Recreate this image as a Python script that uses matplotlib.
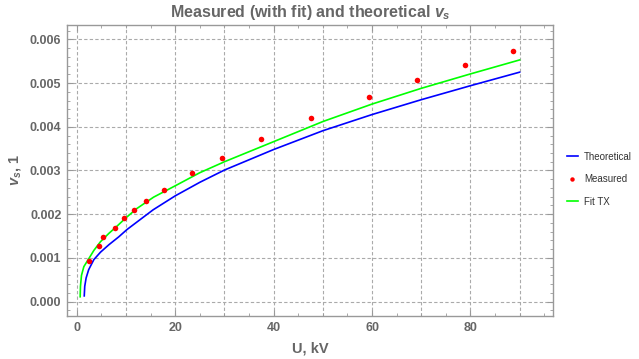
import matplotlib
matplotlib.use("Agg")
import matplotlib.pyplot as plt
from matplotlib.ticker import MultipleLocator

plt.rcParams['font.family'] = ['Liberation Sans', 'DejaVu Sans']
plt.rcParams['mathtext.fontset'] = 'custom'
plt.rcParams['mathtext.it'] = 'Liberation Sans:italic:bold'
plt.rcParams['mathtext.rm'] = 'Liberation Sans:bold'

# measured points
u_meas = [2.38, 4.4, 5.3, 7.8, 9.6, 11.6, 14.0, 17.7, 23.5, 29.6, 37.4, 47.6, 59.4, 69.2, 78.9, 88.6]
v_meas = [0.000938, 0.001275, 0.001473, 0.001686, 0.001908, 0.002098, 0.002297, 0.002549,
          0.002952, 0.003295, 0.003716, 0.004197, 0.004677, 0.005066, 0.005416, 0.005737]

# theoretical curve
u_theo = [1.5, 1.6, 1.88, 2.4, 3.45, 4.8, 6.5, 8.5, 10.2, 15.5, 20, 25, 30, 40, 50, 60, 70, 80, 90]
v_theo = [0.00013, 0.00035, 0.00054, 0.00073, 0.00096, 0.00113, 0.0013, 0.00148, 0.00165,
          0.0021, 0.00242, 0.00273, 0.00301, 0.00348, 0.00391, 0.00428, 0.00462, 0.00494, 0.00525]

# fit curve
u_fit = [0.67, 0.73, 0.94, 1.42, 2.3, 3.45, 4.8, 6.5, 8.2, 10, 12.2, 15.6, 20, 25, 30,
         40, 50, 60, 70, 80, 90]
v_fit = [0.00011, 0.00035, 0.0006, 0.0008, 0.00096, 0.00117, 0.00137, 0.00156, 0.00173,
         0.00192, 0.00213, 0.00239, 0.00265, 0.00295, 0.0032, 0.00366, 0.00412, 0.00452,
         0.00488, 0.00521, 0.00553]

gray = '#666666'

fig = plt.figure(figsize=(6.39, 3.59), dpi=100)
ax = fig.add_axes([0.1049, 0.1198, 0.7606, 0.8106])

ax.plot(u_theo, v_theo, color='#0000ff', lw=1.2, label='Theoretical', zorder=3)
ax.plot(u_meas, v_meas, 'o', color='#ff0000', ms=4, mew=0, label='Measured', zorder=4)
ax.plot(u_fit, v_fit, color='#00ff00', lw=1.2, label='Fit TX', zorder=3)

ax.set_xlim(-2.0, 96.8)
ax.set_ylim(-0.00033, 0.00633)

ax.xaxis.set_major_locator(MultipleLocator(20))
ax.xaxis.set_minor_locator(MultipleLocator(5))
ax.yaxis.set_major_locator(MultipleLocator(0.001))
ax.yaxis.set_minor_locator(MultipleLocator(0.0002))
ax.yaxis.set_major_formatter(plt.FuncFormatter(lambda v, p: '%.3f' % v))

for gx in range(0, 100, 10):
    ax.axvline(gx, color='#aaaaaa', lw=0.8, ls=(0, (3, 2)), zorder=1)
for gy in [0, 0.001, 0.002, 0.003, 0.004, 0.005, 0.006]:
    ax.axhline(gy, color='#aaaaaa', lw=0.8, ls=(0, (3, 2)), zorder=1)

ax.tick_params(which='both', direction='in', top=True, right=True, color='#999999',
               labelcolor=gray)
ax.tick_params(which='major', length=4, width=0.8, labelsize=9, pad=4)
ax.tick_params(which='minor', length=2.2, width=0.6)
for lab in ax.get_xticklabels() + ax.get_yticklabels():
    lab.set_fontweight('bold')
for s in ax.spines.values():
    s.set_color('#999999')
    s.set_linewidth(1.0)

ax.set_xlabel('U, kV', fontsize=10.5, fontweight='bold', color=gray, labelpad=6)
ax.set_ylabel(r'$v_s$, 1', fontsize=10.5, fontweight='bold', color=gray, labelpad=5)
ax.set_title(r'Measured (with fit) and theoretical $v_s$', fontsize=11.5,
             fontweight='bold', color=gray, pad=6)

leg = ax.legend(loc='center left', bbox_to_anchor=(1.01, 0.47), frameon=False,
                fontsize=7, handlelength=1.2, handletextpad=0.6, labelspacing=1.3,
                markerscale=0.8)
for t in leg.get_texts():
    t.set_color('#333333')

fig.savefig('out.png', dpi=100)
